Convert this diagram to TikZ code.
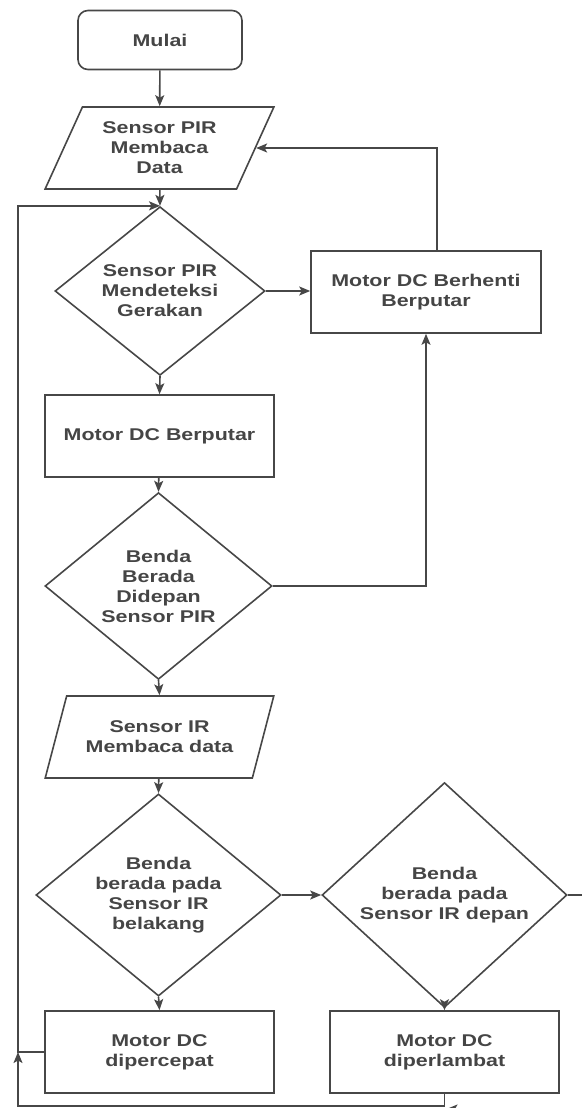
\documentclass[tikz,border=0pt]{standalone}
\usepackage{fontspec}
\setmainfont{Liberation Sans}[FakeStretch=1.26]
\usepackage{tikz}
\usetikzlibrary{shapes.geometric, arrows.meta, calc, positioning}
\usepackage{xcolor}
\definecolor{linegray}{rgb}{0.28, 0.28, 0.28}
\definecolor{textgray}{rgb}{0.27, 0.27, 0.27}

\begin{document}
\begin{tikzpicture}[x=1pt, y=-1pt]
        \tikzstyle{base}=[draw=linegray, line width=1.6pt, align=center, text=textgray,
                          font=\fontsize{17pt}{20pt}\selectfont\bfseries, inner sep=0pt]
        \tikzstyle{terminal}=[base, rectangle, rounded corners=10pt, minimum width=164pt, minimum height=59pt]
        \tikzstyle{process}=[base, rectangle, minimum width=229pt, minimum height=82pt]
        \tikzstyle{inout}=[base, trapezium, trapezium left angle=62, trapezium right angle=118,
                           trapezium stretches=true, minimum width=229pt, minimum height=82pt]
        \tikzstyle{decision}=[base, diamond]
        \tikzstyle{arr}=[draw=linegray, line width=1.6pt, -{Stealth[length=11pt, width=9pt, inset=2.5pt]}]
        \tikzstyle{line}=[draw=linegray, line width=1.6pt]
        \useasboundingbox (0,0) rectangle (581,1108);
        % main column
        \node (mulai)[terminal] at (160,40) {Mulai};
        \node (pir)[inout] at (159.5,148) {Sensor PIR\\Membaca\\Data};
        \node (d1)[decision, minimum width=210pt, minimum height=149pt] at (160,291) {Sensor PIR\\Mendeteksi\\Gerakan};
        \node (berputar)[process] at (159.5,436) {Motor DC Berputar};
        \node (d2)[decision, minimum width=227pt, minimum height=158pt] at (158.5,586) {Benda\\Berada\\Didepan\\Sensor PIR};
        \node (ir)[inout] at (159.5,737) {Sensor IR\\Membaca data};
        \node (d3)[decision, minimum width=245pt, minimum height=176pt] at (158.5,895) {Benda\\berada pada\\Sensor IR\\belakang};
        \node (cepat)[process] at (159.5,1052) {Motor DC\\dipercepat};
        % right column
        \node (berhenti)[process, minimum width=230pt] at (426,292) {Motor DC Berhenti\\Berputar};
        \node (d4)[decision, minimum width=245pt, minimum height=177pt] at (444.5,895) {Benda\\berada pada\\Sensor IR depan};
        \node (lambat)[process] at (444.5,1052) {Motor DC\\diperlambat};
        % loop points
        \coordinate (loopL) at (18,1052);
        \coordinate (loopB) at (444.5,1106);
        \coordinate (offR) at (600,895);
        % Draw flow
        \draw[arr] (mulai) -- (pir);
        \draw[arr] (pir) -- (d1.north);
        \draw[arr] (d1.east) -- (d1.east -| berhenti.west);
        \draw[arr] ([xshift=11pt]berhenti.north) |- (pir.east);
        \draw[arr] (d1.south) -- (berputar.north);
        \draw[arr] (berputar) -- (d2.north);
        \draw[arr] (d2.east) -| (berhenti.south);
        \draw[arr] (d2.south) -- (ir.north);
        \draw[arr] (ir) -- (d3.north);
        \draw[arr] (d3.east) -- (d4.west);
        \draw[arr] (d3.south) -- (cepat.north);
        \draw[arr] (d4.south) -- (lambat.north);
        % loops back
        \draw[arr] (cepat.west) -- (loopL) |- (d1.north);
        \draw[arr] (lambat.south) -- (loopB) -| (loopL);
        \draw[line] (d4.east) -- (offR);
        \draw[arr] (offR) |- ($(loopB)+(2,3)$);
\end{tikzpicture}
\end{document}
